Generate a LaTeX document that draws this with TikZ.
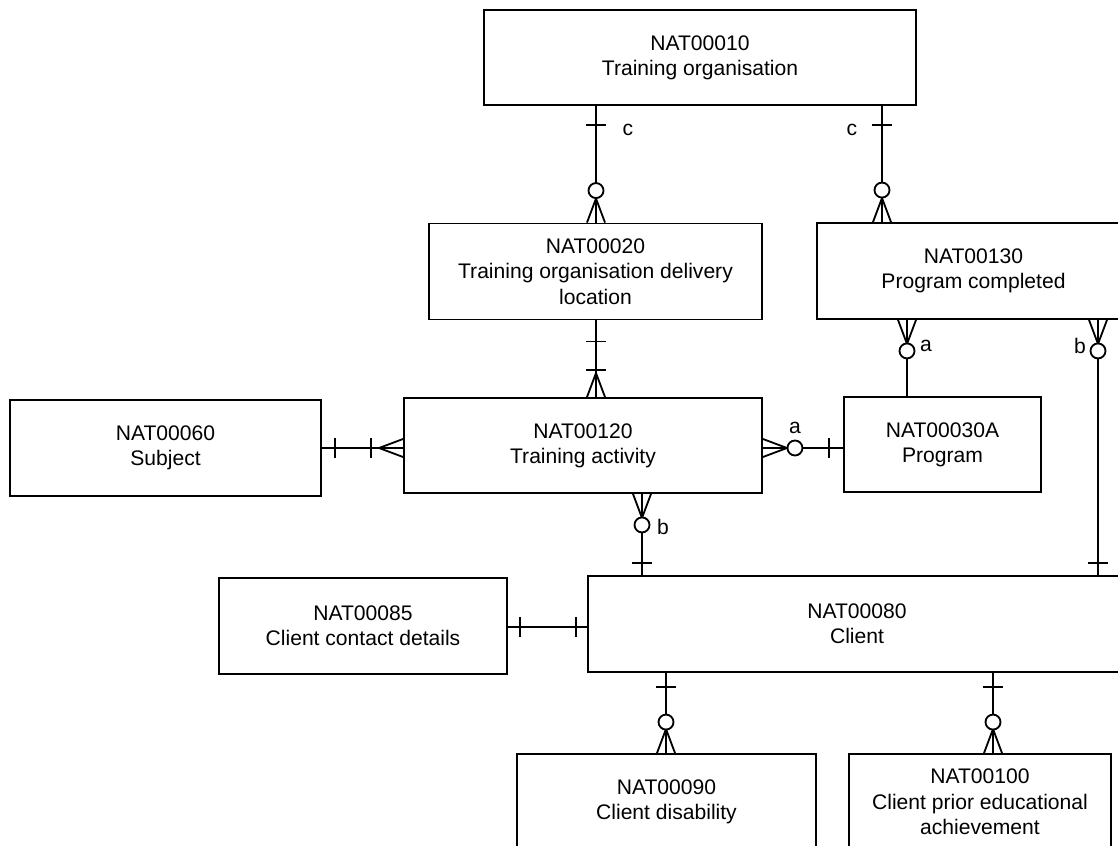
\documentclass[tikz,border=0pt]{standalone}
\usepackage{fontspec}
\setmainfont{Liberation Sans}
\usepackage{tikz}
\usetikzlibrary{positioning}
\tikzstyle{entity} = [rectangle, draw, line width=1.3pt, minimum height=2.4cm, align=center, font=\fontsize{15}{18}\selectfont]
\tikzstyle{link} = [line width=1.3pt]
\tikzstyle{tag} = [font=\fontsize{15}{18}\selectfont, inner sep=0pt]
\tikzset{
  barh/.pic={\draw[link] (-10,0) -- (10,0);},
  barv/.pic={\draw[link] (0,-10) -- (0,10);},
  ring/.pic={\draw[link, fill=white] (0,0) circle (7.5);},
  crown/.pic={\draw[link] (-9,0) -- (0,-24) -- (9,0) (0,0) -- (0,-24);},
  crows/.pic={\draw[link] (-9,0) -- (0,24) -- (9,0) (0,0) -- (0,24);},
  crowe/.pic={\draw[link] (0,-9) -- (-24,0) -- (0,9) (0,0) -- (-24,0);},
  croww/.pic={\draw[link] (0,-9) -- (24,0) -- (0,9) (0,0) -- (24,0);}
}

\begin{document}
\begin{tikzpicture}[x=0.025cm, y=-0.025cm]
    \useasboundingbox (0,0) rectangle (1118,846);

    % entities
    \node (org) [entity, minimum width=10.8cm, minimum height=2.375cm] at (700,57.5) {NAT00010\\Training organisation};
    \node (loc) [entity, minimum width=8.325cm] at (595.5,271.5) {NAT00020\\Training organisation delivery\\location};
    \node (done) [entity, minimum width=7.825cm] at (973.5,271) {NAT00130\\Program completed};
    \node (subj) [entity, minimum width=7.775cm] at (165.5,448) {NAT00060\\Subject};
    \node (act) [entity, minimum width=8.95cm, minimum height=2.375cm] at (583,445.5) {NAT00120\\Training activity};
    \node (prog) [entity, minimum width=4.925cm, minimum height=2.375cm] at (942.5,444.5) {NAT00030A\\Program};
    \node (cont) [entity, minimum width=7.2cm] at (363,626) {NAT00085\\Client contact details};
    \node (client) [entity, minimum width=13.45cm] at (857,624) {NAT00080\\Client};
    \node (dis) [entity, minimum width=7.475cm] at (666.5,802) {NAT00090\\Client disability};
    \node (prior) [entity, minimum width=6.55cm] at (980,802) {NAT00100\\Client prior educational\\achievement};

    % where the links run
    \coordinate (l1) at (596,0);
    \coordinate (l2) at (882,0);
    \coordinate (l3) at (907,0);
    \coordinate (l4) at (1098,0);
    \coordinate (l5) at (642,0);
    \coordinate (l6) at (666,0);
    \coordinate (l7) at (993,0);
    \coordinate (r1) at (0,448);
    \coordinate (r2) at (0,627);

    % links
    \draw[link] (org.south -| l1) -- (loc.north -| l1);
    \draw[link] (org.south -| l2) -- (done.north -| l2);
    \draw[link] (loc.south -| l1) -- (act.north -| l1);
    \draw[link] (subj.east |- r1) -- (act.west |- r1);
    \draw[link] (act.east |- r1) -- (prog.west |- r1);
    \draw[link] (done.south -| l3) -- (prog.north -| l3);
    \draw[link] (done.south -| l4) -- (client.north -| l4);
    \draw[link] (act.south -| l5) -- (client.north -| l5);
    \draw[link] (cont.east |- r2) -- (client.west |- r2);
    \draw[link] (client.south -| l6) -- (dis.north -| l6);
    \draw[link] (client.south -| l7) -- (prior.north -| l7);

    % org - loc, org - done
    \path (org.south -| l1) ++(0,19) pic {barh};
    \path (loc.north -| l1) pic {crown};
    \path (loc.north -| l1) ++(0,-32) pic {ring};
    \path (org.south -| l1) ++(32,24) node[tag] (c1) {c};
    \path (org.south -| l2) ++(0,19) pic {barh};
    \path (done.north -| l2) pic {crown};
    \path (done.north -| l2) ++(0,-32) pic {ring};
    \path (org.south -| l2) ++(-30,24) node[tag] (c2) {c};

    % loc - act
    \path (loc.south -| l1) ++(0,21) pic {barh};
    \path (act.north -| l1) ++(0,-27) pic {barh};
    \path (act.north -| l1) pic {crown};

    % subj - act, act - prog
    \path (subj.east |- r1) ++(13,0) pic {barv};
    \path (act.west |- r1) ++(-32,0) pic {barv};
    \path (act.west |- r1) pic {crowe};
    \path (act.east |- r1) pic {croww};
    \path (act.east |- r1) ++(32,0) pic {ring};
    \path (prog.west |- r1) ++(-14,0) pic {barv};
    \path (act.east |- r1) ++(32,-20) node[tag] (a1) {a};

    % done - prog, done - client
    \path (done.south -| l3) pic {crows};
    \path (done.south -| l3) ++(0,31) pic {ring};
    \path (done.south -| l3) ++(19,26) node[tag] (a2) {a};
    \path (done.south -| l4) pic {crows};
    \path (done.south -| l4) ++(0,31) pic {ring};
    \path (client.north -| l4) ++(0,-12) pic {barh};
    \path (done.south -| l4) ++(-18,26) node[tag] (b1) {b};

    % act - client
    \path (act.south -| l5) pic {crows};
    \path (act.south -| l5) ++(0,31) pic {ring};
    \path (client.north -| l5) ++(0,-12) pic {barh};
    \path (act.south -| l5) ++(21,33) node[tag] (b2) {b};

    % cont - client
    \path (cont.east |- r2) ++(12,0) pic {barv};
    \path (client.west |- r2) ++(-11,0) pic {barv};

    % client - dis, client - prior
    \path (client.south -| l6) ++(0,14) pic {barh};
    \path (dis.north -| l6) pic {crown};
    \path (dis.north -| l6) ++(0,-31) pic {ring};
    \path (client.south -| l7) ++(0,14) pic {barh};
    \path (prior.north -| l7) pic {crown};
    \path (prior.north -| l7) ++(0,-31) pic {ring};
\end{tikzpicture}
\end{document}
